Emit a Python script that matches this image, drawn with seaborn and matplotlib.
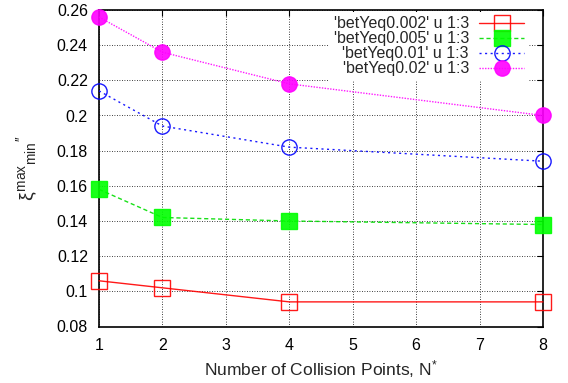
import matplotlib
matplotlib.use("Agg")
import matplotlib.pyplot as plt
import seaborn as sns
import pandas as pd

collision_points = [1, 2, 4, 8]
beta_002 = [0.106, 0.102, 0.094, 0.094]
beta_005 = [0.158, 0.142, 0.140, 0.138]
beta_01 = [0.214, 0.194, 0.182, 0.174]
beta_02 = [0.256, 0.236, 0.218, 0.200]
series_labels = ["'betYeq0.002' u 1:3", "'betYeq0.005' u 1:3",
                 "'betYeq0.01' u 1:3", "'betYeq0.02' u 1:3"]
x_ticks = [1, 2, 3, 4, 5, 6, 7, 8]
y_ticks = [0.08, 0.10, 0.12, 0.14, 0.16, 0.18, 0.20, 0.22, 0.24, 0.26]
y_tick_labels = ["0.08", "0.1", "0.12", "0.14", "0.16", "0.18", "0.2", "0.22", "0.24", "0.26"]

sns.set_style("white")
plt.rcParams["font.family"] = ["Liberation Sans", "DejaVu Sans"]
plt.rcParams["mathtext.fontset"] = "custom"
plt.rcParams["mathtext.rm"] = "Liberation Sans"
plt.rcParams["mathtext.it"] = "Liberation Sans"

fig = plt.figure(figsize=(5.68, 3.83), dpi=100)
ax = fig.add_axes([99/568, 1-326.5/383, (543-99)/568, (326.5-10)/383])

styles = [
    dict(color="#ff0000", linestyle="-", marker="s", mfc="none", mec="#ff0000"),
    dict(color="#00dd00", linestyle=(0, (3, 2)), marker="s", mfc="#00ff00", mec="#00ff00"),
    dict(color="#0000ff", linestyle=(0, (1.5, 2.5)), marker="o", mfc="none", mec="#0000ff"),
    dict(color="#ff00ff", linestyle=(0, (1, 1)), marker="o", mfc="#ff00ff", mec="#ff00ff"),
]
all_series = [beta_002, beta_005, beta_01, beta_02]
for vals, lab, st in zip(all_series, series_labels, styles):
    df = pd.DataFrame({"N": collision_points, "xi": vals})
    sns.lineplot(data=df, x="N", y="xi", ax=ax, label=lab, color=st["color"],
                 linestyle=st["linestyle"], marker=st["marker"],
                 markerfacecolor=st["mfc"], markeredgecolor=st["mec"],
                 markersize=11, markeredgewidth=1.0, linewidth=1.0, alpha=0.9,
                 clip_on=False, zorder=5)

ax.set_xlim(1, 8)
ax.set_ylim(0.08, 0.26)
ax.set_xticks(x_ticks)
ax.set_yticks(y_ticks)
ax.set_yticklabels(y_tick_labels)
ax.grid(True, color="black", linestyle=(0, (1, 2)), linewidth=0.6)
ax.tick_params(direction="in", top=True, right=True, length=4, labelsize=11.5,
               colors="black", pad=8)
for s in ax.spines.values():
    s.set_color("black")
    s.set_linewidth(1.2)
    s.set_zorder(4)

ax.set_xlabel(r"Number of Collision Points, N$^{*}$", fontsize=12.5, labelpad=4)
ax.set_ylabel(r"$\xi^{max}{}_{min}{}^{\prime\prime}$", fontsize=14, labelpad=12)

leg = ax.legend(loc="upper right", bbox_to_anchor=(0.968, 0.995), frameon=True,
                facecolor="white", edgecolor="none", framealpha=1.0, fancybox=False,
                markerfirst=False, fontsize=11.5, handlelength=2.8,
                labelspacing=0.0, borderaxespad=0.0, handletextpad=0.65,
                borderpad=0.3)
leg.set_zorder(10)
fig.savefig("out.png", dpi=100)
